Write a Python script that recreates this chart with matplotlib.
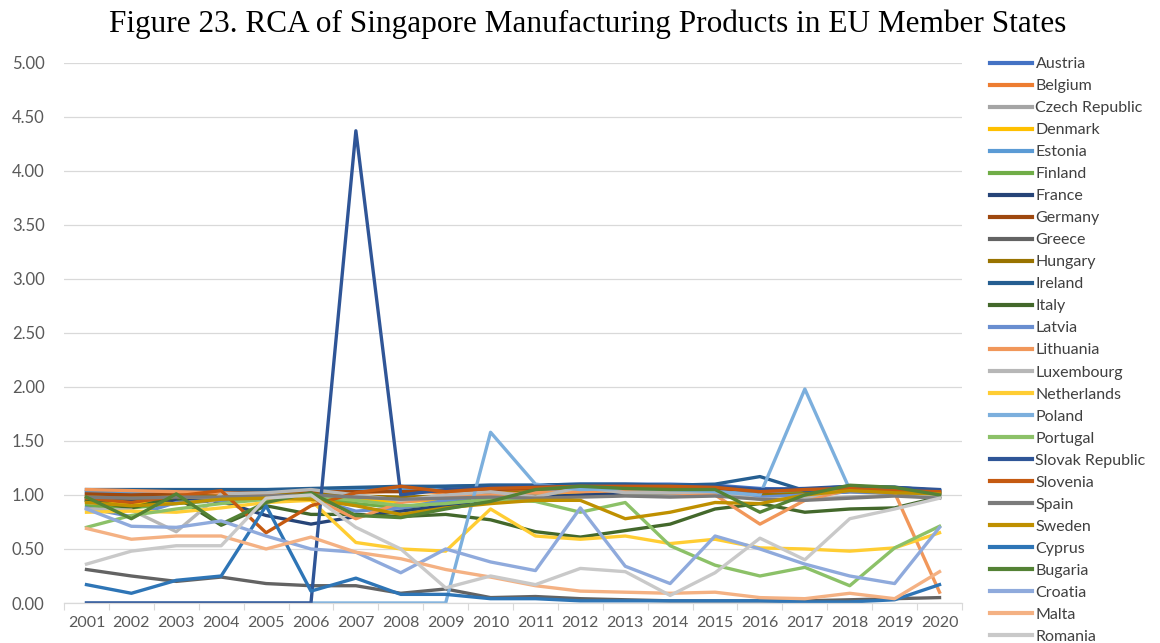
import numpy as np
import matplotlib
matplotlib.use("Agg")
from matplotlib import pyplot as plt

years = [str(y) for y in range(2001, 2021)]

countries = ["Austria", "Belgium", "Czech Republic", "Denmark", "Estonia",
             "Finland", "France", "Germany", "Greece", "Hungary", "Ireland",
             "Italy", "Latvia", "Lithuania", "Luxembourg", "Netherlands",
             "Poland", "Portugal", "Slovak Republic", "Slovenia", "Spain",
             "Sweden", "Cyprus", "Bugaria", "Croatia", "Malta", "Romania"]

austria = [1.03, 1.03, 1.04, 1.04, 1.03, 1.05, 1.06, 1.07, 1.08, 1.09, 1.09, 1.10, 1.10, 1.10, 1.09, 1.06, 1.05, 1.08, 1.07, 1.04]
belgium = [1.00, 0.98, 0.99, 1.02, 1.01, 1.00, 1.02, 1.04, 1.02, 1.03, 1.04, 1.05, 1.06, 1.06, 1.05, 1.03, 1.04, 1.05, 1.04, 1.02]
czech = [0.96, 0.95, 0.96, 0.97, 0.97, 0.98, 0.97, 0.96, 0.97, 0.98, 0.99, 1.00, 1.00, 0.99, 1.00, 0.97, 0.96, 0.98, 1.00, 0.98]
denmark = [0.94, 0.93, 0.93, 0.95, 0.96, 0.97, 0.95, 0.94, 0.95, 0.97, 0.99, 1.01, 1.02, 1.02, 1.03, 1.00, 1.02, 1.04, 1.03, 1.02]
estonia = [1.02, 1.02, 1.02, 1.03, 1.03, 1.04, 1.04, 1.05, 1.05, 1.06, 1.07, 1.08, 1.08, 1.07, 1.05, 1.02, 1.04, 1.07, 1.06, 1.04]
finland = [0.90, 0.88, 0.92, 0.95, 0.97, 0.99, 0.92, 0.88, 0.93, 0.98, 1.02, 1.06, 1.05, 1.04, 1.03, 0.98, 1.03, 1.08, 1.07, 1.02]
france = [0.95, 0.96, 0.95, 0.94, 0.81, 0.73, 0.80, 0.85, 0.90, 0.95, 0.98, 1.00, 1.02, 1.02, 1.02, 1.00, 1.00, 1.03, 1.02, 1.01]
germany = [1.01, 1.00, 1.01, 1.02, 1.02, 1.03, 1.03, 1.03, 1.04, 1.05, 1.06, 1.07, 1.07, 1.07, 1.06, 1.04, 1.05, 1.06, 1.05, 1.03]
greece = [0.31, 0.25, 0.20, 0.24, 0.18, 0.16, 0.16, 0.09, 0.13, 0.05, 0.06, 0.04, 0.03, 0.02, 0.02, 0.02, 0.02, 0.03, 0.04, 0.05]
hungary = [0.98, 0.97, 0.98, 0.99, 1.00, 1.01, 0.99, 0.98, 0.99, 1.01, 1.03, 1.04, 1.04, 1.03, 1.02, 1.00, 1.01, 1.04, 1.03, 1.02]
ireland = [1.05, 1.05, 1.05, 1.05, 1.05, 1.06, 1.07, 1.08, 1.08, 1.09, 1.09, 1.10, 1.10, 1.09, 1.10, 1.17, 1.04, 1.07, 1.07, 1.04]
italy = [0.95, 0.88, 0.98, 0.72, 0.90, 0.82, 0.82, 0.80, 0.82, 0.77, 0.66, 0.61, 0.67, 0.73, 0.87, 0.92, 0.84, 0.87, 0.88, 0.98]
latvia = [0.88, 0.80, 0.93, 0.95, 0.96, 0.97, 0.85, 0.88, 0.95, 1.00, 1.02, 1.04, 1.05, 1.03, 1.00, 0.98, 1.00, 1.03, 1.02, 1.00]
lithuania = [1.05, 1.04, 1.03, 1.02, 1.00, 0.98, 0.78, 0.93, 0.98, 1.00, 1.02, 1.03, 1.04, 1.02, 1.00, 0.73, 0.95, 1.05, 1.02, 0.10]
luxembourg = [0.87, 0.86, 0.66, 1.01, 1.02, 1.05, 1.00, 0.95, 1.00, 1.03, 0.98, 1.07, 1.02, 1.02, 1.03, 0.96, 0.97, 1.08, 1.05, 0.97]
netherlands = [0.84, 0.85, 0.84, 0.88, 0.93, 0.95, 0.56, 0.50, 0.48, 0.87, 0.62, 0.59, 0.62, 0.55, 0.59, 0.51, 0.50, 0.48, 0.51, 0.65]
poland = [0, 0, 0, 0, 0, 0, 0, 0, 0, 1.58, 1.10, 1.05, 1.06, 1.05, 1.03, 1.00, 1.98, 1.05, 1.04, 1.02]
portugal = [0.70, 0.81, 0.87, 0.92, 0.96, 0.99, 0.95, 0.90, 0.92, 0.96, 0.94, 0.84, 0.93, 0.53, 0.35, 0.25, 0.33, 0.16, 0.51, 0.71]
slovakia = [0, 0, 0, 0, 0, 0, 4.37, 1.00, 1.05, 1.07, 1.08, 1.08, 1.09, 1.08, 1.08, 1.05, 1.06, 1.08, 1.07, 1.05]
slovenia = [0.97, 0.93, 0.99, 1.04, 0.65, 0.90, 1.02, 1.08, 1.03, 1.06, 1.07, 1.08, 1.08, 1.08, 1.07, 1.03, 1.05, 1.06, 1.04, 1.03]
spain = [0.98, 0.97, 0.98, 0.98, 0.99, 1.00, 0.98, 0.96, 0.97, 0.98, 0.97, 0.98, 0.99, 0.98, 0.99, 0.96, 0.95, 0.97, 0.99, 0.97]
sweden = [0.93, 0.90, 0.92, 0.96, 0.97, 0.96, 0.90, 0.82, 0.88, 0.92, 0.95, 0.95, 0.78, 0.84, 0.93, 0.92, 1.00, 1.04, 1.02, 1.01]
cyprus = [0.17, 0.09, 0.21, 0.25, 0.90, 0.11, 0.23, 0.08, 0.08, 0.04, 0.04, 0.02, 0.02, 0.02, 0.02, 0.02, 0.01, 0.01, 0.03, 0.17]
bulgaria = [0.98, 0.78, 1.01, 0.73, 0.93, 1.02, 0.81, 0.79, 0.87, 0.94, 1.05, 1.08, 1.06, 1.05, 1.05, 0.84, 1.00, 1.09, 1.07, 1.00]
croatia = [0.87, 0.71, 0.70, 0.76, 0.62, 0.50, 0.47, 0.28, 0.50, 0.38, 0.30, 0.88, 0.34, 0.18, 0.62, 0.50, 0.36, 0.25, 0.18, 0.70]
malta = [0.69, 0.59, 0.62, 0.62, 0.50, 0.61, 0.47, 0.41, 0.31, 0.24, 0.16, 0.11, 0.10, 0.09, 0.10, 0.05, 0.04, 0.09, 0.04, 0.29]
romania = [0.36, 0.48, 0.53, 0.53, 0.97, 1.00, 0.70, 0.50, 0.14, 0.25, 0.17, 0.32, 0.29, 0.07, 0.28, 0.60, 0.40, 0.78, 0.87, 0.97]

series = [austria, belgium, czech, denmark, estonia, finland, france, germany,
          greece, hungary, ireland, italy, latvia, lithuania, luxembourg,
          netherlands, poland, portugal, slovakia, slovenia, spain, sweden,
          cyprus, bulgaria, croatia, malta, romania]

# Excel default series palette
colors = ["#4472C4", "#ED7D31", "#A5A5A5", "#FFC000", "#5B9BD5", "#70AD47",
          "#264478", "#9E480E", "#636363", "#997300", "#255E91", "#43682B",
          "#698ED0", "#F1975A", "#B7B7B7", "#FFCD33", "#7CAFDD", "#8CC168",
          "#2F5597", "#C55A11", "#7B7B7B", "#BF9000", "#2E75B6", "#548235",
          "#8FAADC", "#F4B183", "#C9C9C9"]

plt.rcParams['font.family'] = ['Lato', 'DejaVu Sans']

fig = plt.figure(figsize=(11.6, 6.43), dpi=100)
ax = fig.add_axes([0.0552, 0.0622, 0.7741, 0.8403])

x = np.arange(len(years))
for name, vals, c in zip(countries, series, colors):
    ax.plot(x, vals, color=c, lw=2.4, label=name)

ax.set_xlim(-0.5, len(years) - 0.5)
ax.set_ylim(0, 5)
yt = np.arange(0, 5.01, 0.5)
ax.set_yticks(yt)
ax.set_yticklabels(["%.2f" % v for v in yt])
ax.set_xticks(x)
ax.set_xticklabels(years)
ax.set_xticks(np.arange(-0.5, len(years), 1), minor=True)
ax.tick_params(axis='x', which='major', length=0, pad=9, labelsize=11.5, colors="#595959")
ax.tick_params(axis='x', which='minor', length=5, color="#D9D9D9", width=0.8)
ax.tick_params(axis='y', length=0, pad=14, labelsize=12, colors="#595959")
ax.grid(axis='y', color="#D9D9D9", lw=0.9)
ax.set_axisbelow(True)
for s in ['top', 'right', 'left']:
    ax.spines[s].set_visible(False)
ax.spines['bottom'].set_color("#D9D9D9")
ax.spines['bottom'].set_linewidth(0.9)

leg = ax.legend(loc='upper left', bbox_to_anchor=(0.8534, 0.911),
                bbox_transform=fig.transFigure, frameon=False, fontsize=11.5,
                handlelength=2.65, handletextpad=0.2, labelspacing=0.49,
                borderpad=0, borderaxespad=0)
for line in leg.get_lines():
    line.set_linewidth(3)
for t in leg.get_texts():
    t.set_color("#404040")

fig.text(0.507, 0.962, "Figure 23. RCA of Singapore Manufacturing Products in EU Member States",
         ha='center', va='center', fontsize=22.5, family='Liberation Serif', color='black')

fig.savefig("out.png", dpi=100)
